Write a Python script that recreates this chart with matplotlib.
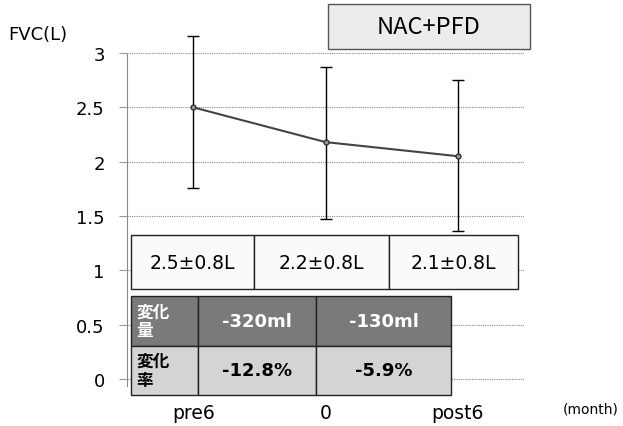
import matplotlib
matplotlib.use("Agg")
import matplotlib.pyplot as plt
from matplotlib.patches import Rectangle

plt.rcParams['font.family'] = ['DejaVu Sans', 'Noto Sans CJK JP']

# data
months = ['pre6', '0', 'post6']
fvc = [2.50, 2.18, 2.05]
err_low = [0.74, 0.71, 0.69]
err_high = [0.66, 0.69, 0.70]
mean_labels = ['2.5±0.8L', '2.2±0.8L', '2.1±0.8L']
change_vol = ['-320ml', '-130ml']
change_pct = ['-12.8%', '-5.9%']

fig = plt.figure(figsize=(6.23, 4.27), dpi=100)
ax = fig.add_axes([127 / 623, 40 / 427, 397 / 623, 333 / 427])

x = range(len(months))
eb = ax.errorbar(x, fvc, yerr=[err_low, err_high], fmt='none', ecolor='black',
                 elinewidth=1, capsize=4, capthick=1, zorder=3)
for art in eb.get_children():
    art.set_clip_on(False)
ax.plot(x, fvc, color='#444444', lw=1.5, marker='o', ms=3.5,
        mfc='#999999', mec='#333333', zorder=4)

ax.set_xlim(-0.5, 2.5)
ax.set_ylim(-0.065, 3.0)
ax.set_yticks([0, 0.5, 1, 1.5, 2, 2.5, 3])
ax.set_yticklabels(['0', '0.5', '1', '1.5', '2', '2.5', '3'])
ax.set_xticks(list(x))
ax.set_xticklabels(months)
ax.tick_params(axis='y', length=6, color='#999999', pad=10, labelsize=13)
ax.tick_params(axis='x', length=0, pad=12, labelsize=13.5)
ax.grid(axis='y', color='#888888', ls=(0, (1, 1)), lw=0.8)
for s in ['top', 'right', 'bottom']:
    ax.spines[s].set_visible(False)
ax.spines['left'].set_color('#888888')
ax.spines['left'].set_linestyle((0, (1, 1)))

fig.text(8 / 623, 1 - 35 / 427, 'FVC(L)', fontsize=13, va='center', ha='left')
fig.text(591 / 623, 1 - 410 / 427, '(month)', fontsize=10, va='center', ha='center')

# title box
fig.patches.append(Rectangle((328 / 623, 1 - 50 / 427), 202 / 623, 45 / 427,
                             transform=fig.transFigure, facecolor='#ececec',
                             edgecolor='#555555', lw=1))
fig.text(429 / 623, 1 - 28 / 427, 'NAC+PFD', fontsize=17, ha='center', va='center',
         family=['Noto Sans CJK JP'])

# mean ± sd table
t1 = ax.table(cellText=[mean_labels], colWidths=[123, 135, 129],
              cellLoc='center', bbox=[0.010, 0.291, 0.975, 0.162])
t1.auto_set_font_size(False)
for (r, c), cell in t1.get_celld().items():
    cell.set_facecolor('#fafafa')
    cell.set_edgecolor('#222222')
    cell.set_linewidth(1)
    cell.get_text().set_fontsize(13.5)
t1.set_zorder(5)

# change table
rows = [['変化\n量'] + change_vol, ['変化\n率'] + change_pct]
t2 = ax.table(cellText=rows, colWidths=[67, 118, 135],
              cellLoc='center', bbox=[0.010, -0.027, 0.806, 0.297])
t2.auto_set_font_size(False)
for (r, c), cell in t2.get_celld().items():
    cell.set_edgecolor('#222222')
    cell.set_linewidth(1)
    txt = cell.get_text()
    txt.set_fontweight('bold')
    if r == 0:
        cell.set_facecolor('#7a7a7a')
        txt.set_color('white')
    else:
        cell.set_facecolor('#d4d4d4')
        txt.set_color('black')
    if c == 0:
        txt.set_fontsize(12)
        txt.set_family(['Noto Sans CJK JP'])
        txt.set_linespacing(1.05)
        cell.set_text_props(ha='left')
        cell.PAD = 0.08
    else:
        txt.set_fontsize(13)
t2.set_zorder(5)

fig.savefig('out.png', dpi=100)
